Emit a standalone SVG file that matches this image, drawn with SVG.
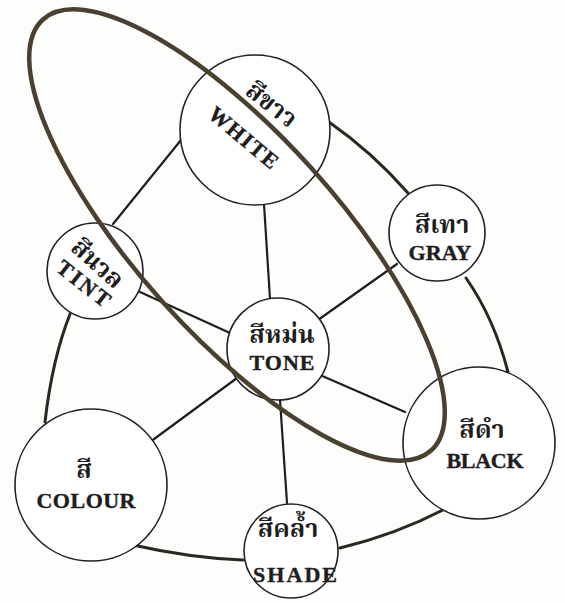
<svg xmlns="http://www.w3.org/2000/svg" width="565" height="603" viewBox="0 0 565 603">
<style>
.bg{fill:#fdfdfb}
.node{fill:#fff;stroke:#222;stroke-width:1.6}
.spoke{stroke:#1e1e1e;stroke-width:2.2;fill:none;stroke-linecap:round}
.rim{stroke:#2a2620;stroke-width:3;fill:none;stroke-linecap:round}
.ring{fill:none;stroke:#4a4030;stroke-width:4.5}
.en{font-family:"Liberation Serif","Times New Roman",serif;font-weight:bold;font-size:22px;fill:#1e1e1e;stroke:#1e1e1e;stroke-width:0.4;text-anchor:middle}
.th{font-family:"Liberation Serif","Noto Serif Thai","Noto Sans Thai","Norasi","Loma","Garuda","DejaVu Serif",serif;font-weight:bold;font-size:25px;fill:#1e1e1e;text-anchor:middle}
</style>
<rect class="bg" x="0" y="0" width="565" height="603"/>
<g id="connectors">
<line class="spoke" x1="264" y1="204" x2="270" y2="299"/>
<line class="spoke" x1="181" y1="140" x2="113" y2="224"/>
<line class="spoke" x1="318" y1="320" x2="397" y2="264"/>
<line class="spoke" x1="140" y1="292" x2="230" y2="333"/>
<line class="spoke" x1="150" y1="442" x2="237" y2="378"/>
<line class="spoke" x1="280" y1="400" x2="287" y2="503"/>
<line class="spoke" x1="320" y1="375" x2="405" y2="412"/>
<path class="rim" d="M329,122 Q372,152 408,193"/>
<path class="rim" d="M466,278 Q494,318 508,372"/>
<path class="rim" d="M70,314 Q52,360 45,422"/>
<path class="rim" d="M133,545 Q190,558 243,560"/>
<path class="rim" d="M340,548 Q395,535 445,509"/>
</g>
<g id="white">
<circle class="node" cx="255" cy="130" r="75"/>
<text class="th" transform="translate(272,104) rotate(38)" x="0" y="9">สีขาว</text>
<text class="en" transform="translate(244,137) rotate(40)" x="0" y="8" font-size="23" textLength="84" lengthAdjust="spacing">WHITE</text>
</g>
<g id="gray">
<circle class="node" cx="437" cy="233" r="48"/>
<text class="th" x="442" y="233">สีเทา</text>
<text class="en" x="440" y="260" textLength="63" lengthAdjust="spacing">GRAY</text>
</g>
<g id="tint">
<circle class="node" cx="95" cy="271" r="48"/>
<text class="th" transform="translate(98,263) rotate(42)" x="0" y="9">สีนวล</text>
<text class="en" transform="translate(84,283) rotate(38)" x="0" y="8" font-size="24" textLength="62" lengthAdjust="spacing">TINT</text>
</g>
<g id="tone">
<circle class="node" cx="278" cy="349" r="51"/>
<text class="th" x="282" y="343">สีหม่น</text>
<text class="en" x="282" y="370" textLength="65" lengthAdjust="spacing">TONE</text>
</g>
<g id="black">
<circle class="node" cx="479" cy="443" r="76"/>
<text class="th" x="482" y="438">สีดำ</text>
<text class="en" x="485" y="468" textLength="77" lengthAdjust="spacing">BLACK</text>
</g>
<g id="colour">
<circle class="node" cx="91" cy="485" r="76"/>
<text class="th" x="84" y="478">สี</text>
<text class="en" x="86" y="508" textLength="99" lengthAdjust="spacing">COLOUR</text>
</g>
<g id="shade">
<circle class="node" cx="291" cy="551" r="47"/>
<text class="th" x="288" y="537">สีคล้ำ</text>
<text class="en" x="295" y="582" textLength="84" lengthAdjust="spacing">SHADE</text>
</g>
<g id="tone-ring">
<ellipse class="ring" cx="237" cy="235" rx="290" ry="100" transform="rotate(48 237 235)"/>
</g>
</svg>
